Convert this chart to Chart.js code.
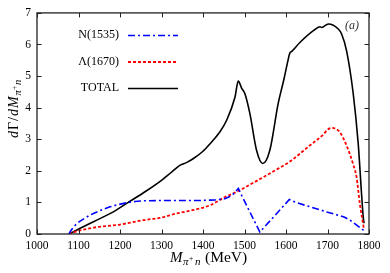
<!DOCTYPE html>
<html><head><meta charset="utf-8">
<script src="https://cdn.jsdelivr.net/npm/chart.js@4/dist/chart.umd.min.js"></script>
<style>html,body{margin:0;padding:0;background:#fff}canvas{display:block}</style>
</head><body>
<canvas id="c" width="390" height="273"></canvas>
<script>
// ---- data ----
const xTicks = [1000, 1100, 1200, 1300, 1400, 1500, 1600, 1700, 1800];
const yTicks = [0, 1, 2, 3, 4, 5, 6, 7];
const seriesNames = ['N(1535)', 'Λ(1670)', 'TOTAL'];

const nM = [1077, 1080, 1084, 1090, 1097, 1104, 1115, 1125, 1136, 1150, 1165, 1176, 1195, 1216, 1236, 1256, 1300, 1337, 1393, 1430, 1453, 1470, 1485, 1537, 1608, 1626, 1698, 1740, 1754, 1786, 1787];
const nV = [0, 0.07, 0.15, 0.25, 0.34, 0.41, 0.50, 0.58, 0.65, 0.73, 0.81, 0.86, 0.93, 0.99, 1.03, 1.05, 1.06, 1.06, 1.06, 1.08, 1.12, 1.22, 1.44, 0.06, 1.09, 0.99, 0.70, 0.54, 0.44, 0.13, 0.08];

const lM = [1077, 1080, 1136, 1200, 1256, 1296, 1337, 1377, 1417, 1453, 1485, 1521, 1569, 1610, 1658, 1690, 1700, 1710, 1718, 1730, 1746, 1762, 1770, 1778, 1784, 1788];
const lV = [0, 0.02, 0.20, 0.30, 0.44, 0.51, 0.65, 0.76, 0.91, 1.17, 1.36, 1.62, 1.98, 2.30, 2.81, 3.15, 3.30, 3.36, 3.34, 3.22, 2.80, 2.20, 1.80, 0.95, 0.45, 0.15];

const tM = [1077, 1080, 1104, 1136, 1184, 1216, 1264, 1300, 1325, 1345, 1360, 1377, 1400, 1417, 1440, 1457, 1477, 1485, 1493, 1501, 1513, 1529, 1544, 1561, 1581, 1595, 1604, 1609, 1614, 1634, 1666, 1682, 1686, 1702, 1726, 1734, 1746, 1762, 1774, 1782, 1786, 1788];
const tV = [0, 0.02, 0.18, 0.39, 0.70, 0.97, 1.37, 1.70, 1.97, 2.18, 2.26, 2.39, 2.62, 2.86, 3.22, 3.60, 4.33, 4.84, 4.62, 4.44, 3.81, 2.65, 2.23, 2.65, 4.12, 4.90, 5.45, 5.72, 5.78, 6.07, 6.44, 6.56, 6.54, 6.65, 6.49, 6.33, 5.80, 4.44, 2.86, 1.28, 0.55, 0.34];

const pts = (xs, ys) => xs.map((x, i) => ({x: x, y: ys[i]}));
const SERIF = '"Liberation Serif", "DejaVu Serif", serif';
Chart.defaults.font.family = SERIF;
Chart.defaults.color = '#000';

function drawAt(ctx, runs, baseY) {
  runs.forEach(r => {
    ctx.font = r.f;
    ctx.fillText(r.t, r.x, baseY + (r.dy || 0));
  });
}

const frame = {
  id: 'frame',
  afterDraw(chart) {
    const {ctx, chartArea: a, scales: {x, y}} = chart;
    ctx.save();
    ctx.strokeStyle = '#222';
    ctx.lineWidth = 1.3;
    ctx.strokeRect(a.left, a.top, a.right - a.left, a.bottom - a.top);
    ctx.lineWidth = 1;
    ctx.beginPath();
    xTicks.forEach(v => {
      const px = Math.round(x.getPixelForValue(v)) + 0.5;
      ctx.moveTo(px, a.bottom); ctx.lineTo(px, a.bottom - 4.5);
      ctx.moveTo(px, a.top); ctx.lineTo(px, a.top + 4.5);
    });
    yTicks.forEach(v => {
      const py = Math.round(y.getPixelForValue(v)) + 0.5;
      ctx.moveTo(a.left, py); ctx.lineTo(a.left + 4.5, py);
      ctx.moveTo(a.right, py); ctx.lineTo(a.right - 4.5, py);
    });
    ctx.stroke();

    // legend
    const rows = [35, 61.5, 88];
    chart.data.datasets.forEach((ds, i) => {
      ctx.font = '12px ' + SERIF;
      ctx.fillStyle = '#000';
      ctx.textAlign = 'right';
      ctx.textBaseline = 'middle';
      ctx.fillText(ds.label, 119, rows[i]);
      ctx.beginPath();
      ctx.strokeStyle = ds.borderColor;
      ctx.lineWidth = ds.borderWidth;
      ctx.setLineDash(ds.borderDash || []);
      ctx.moveTo(128, rows[i] + 0.5);
      ctx.lineTo(178, rows[i] + 0.5);
      ctx.stroke();
      ctx.setLineDash([]);
    });

    // (a)
    ctx.textAlign = 'left';
    ctx.textBaseline = 'alphabetic';
    ctx.fillStyle = '#333';
    ctx.font = 'italic 12px ' + SERIF;
    ctx.fillText('(a)', 345, 29);

    // x title
    ctx.fillStyle = '#000';
    drawAt(ctx, [
      {t: 'M', x: 170, f: 'italic 15px ' + SERIF},
      {t: 'π', x: 183, f: 'italic 11px ' + SERIF, dy: 3},
      {t: '+', x: 189, f: '7.5px ' + SERIF, dy: -1.5},
      {t: 'n', x: 195, f: 'italic 11px ' + SERIF, dy: 3},
      {t: '(MeV)', x: 205, f: '15.5px ' + SERIF}
    ], 262);

    // y title (rotated)
    ctx.translate(18, 138);
    ctx.rotate(-Math.PI / 2);
    drawAt(ctx, [
      {t: 'd', x: 0, f: 'italic 14px ' + SERIF},
      {t: 'Γ', x: 8, f: '14px ' + SERIF},
      {t: '/', x: 17, f: '14px ' + SERIF},
      {t: 'd', x: 22, f: 'italic 14px ' + SERIF},
      {t: 'M', x: 30, f: 'italic 14px ' + SERIF},
      {t: 'π', x: 42.5, f: 'italic 10.5px ' + SERIF, dy: 3},
      {t: '+', x: 48, f: '7.5px ' + SERIF, dy: -1.5},
      {t: 'n', x: 53, f: 'italic 10.5px ' + SERIF, dy: 3}
    ], 0);
    ctx.restore();
  }
};

new Chart(document.getElementById('c'), {
  type: 'line',
  data: {
    datasets: [
      {label: seriesNames[0], data: pts(nM, nV), borderColor: '#0000ff', borderWidth: 1.6, borderDash: [7, 3, 2, 3], tension: 0},
      {label: seriesNames[1], data: pts(lM, lV), borderColor: '#ff0000', borderWidth: 1.8, borderDash: [3, 2], cubicInterpolationMode: 'monotone'},
      {label: seriesNames[2], data: pts(tM, tV), borderColor: '#000000', borderWidth: 1.6, cubicInterpolationMode: 'monotone'}
    ].map(d => Object.assign(d, {pointRadius: 0, fill: false}))
  },
  options: {
    responsive: false,
    animation: false,
    devicePixelRatio: 1,
    layout: {padding: {left: 0, right: 21, top: 12, bottom: 0}},
    plugins: {legend: {display: false}, tooltip: {enabled: false}},
    scales: {
      x: {
        type: 'linear', min: 1000, max: 1800,
        afterBuildTicks: s => { s.ticks = xTicks.map(v => ({value: v})); },
        afterFit: s => { s.height = 39; },
        grid: {display: false, drawTicks: false},
        border: {display: false},
        ticks: {padding: 5, maxRotation: 0, autoSkip: false, font: {size: 11.5}, color: '#000', callback: v => String(v)}
      },
      y: {
        type: 'linear', min: 0, max: 7,
        afterBuildTicks: s => { s.ticks = yTicks.map(v => ({value: v})); },
        afterFit: s => { s.width = 37; },
        grid: {display: false, drawTicks: false},
        border: {display: false},
        ticks: {padding: 6, autoSkip: false, font: {size: 11.5}, color: '#000', callback: v => String(v)}
      }
    }
  },
  plugins: [frame]
});
</script>
</body></html>
